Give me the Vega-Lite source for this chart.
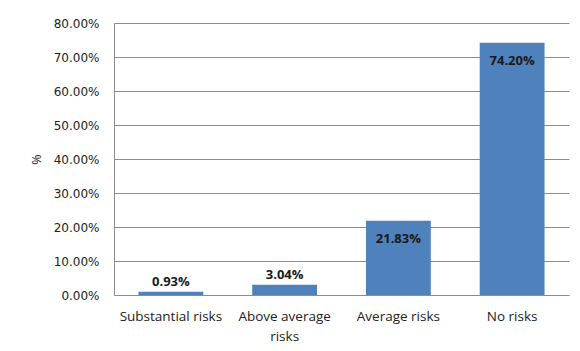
{
  "$schema": "https://vega.github.io/schema/vega-lite/v6.json",
  "width": 455,
  "height": 272,
  "autosize": "none",
  "padding": {"left": 114, "top": 23, "right": 11, "bottom": 56},
  "background": "white",
  "config": {
    "view": {"stroke": null},
    "font": "Open Sans"
  },
  "data": {
    "values": [
      {"category": "Substantial risks", "value": 0.0093},
      {"category": "Above average risks", "value": 0.0304},
      {"category": "Average risks", "value": 0.2183},
      {"category": "No risks", "value": 0.742}
    ]
  },
  "encoding": {
    "x": {
      "field": "category",
      "type": "nominal",
      "sort": null,
      "scale": {"paddingInner": 0.43, "paddingOuter": 0.215},
      "axis": {
        "title": null,
        "labelAngle": 0,
        "ticks": false,
        "domainColor": "#8c8c8c",
        "labelPadding": 14,
        "labelFontSize": 13.5,
        "labelColor": "#222",
        "labelFont": "Open Sans",
        "labelLineHeight": 20,
        "labelExpr": "datum.label == 'Above average risks' ? ['Above average', 'risks'] : datum.label"
      }
    },
    "y": {
      "field": "value",
      "type": "quantitative",
      "scale": {"domain": [0, 0.8]},
      "axis": {
        "title": "%",
        "titleAngle": -90,
        "titleFontWeight": "normal",
        "titleFontSize": 12.5,
        "titleColor": "#222",
        "titlePadding": 10,
        "format": ".2%",
        "values": [0, 0.1, 0.2, 0.3, 0.4, 0.5, 0.6, 0.7, 0.8],
        "labelOverlap": false,
        "ticks": false,
        "labelPadding": 15,
        "labelFont": "DejaVu Sans",
        "labelFontSize": 12,
        "labelColor": "#222",
        "domain": true,
        "domainColor": "#8c8c8c",
        "grid": true,
        "gridColor": "#8c8c8c",
        "gridOpacity": 1
      }
    }
  },
  "layer": [
    {"mark": {"type": "bar", "color": "#4F81BD"}},
    {
      "transform": [{"filter": "datum.value < 0.1"}],
      "mark": {"type": "text", "fontWeight": "bold", "fontSize": 13, "baseline": "bottom", "dy": -3, "color": "#1a1a1a"},
      "encoding": {"text": {"field": "value", "format": ".2%"}}
    },
    {
      "transform": [{"filter": "datum.value >= 0.1"}],
      "mark": {"type": "text", "fontWeight": "bold", "fontSize": 13, "baseline": "top", "dy": 12, "color": "#1a1a1a"},
      "encoding": {"text": {"field": "value", "format": ".2%"}}
    }
  ]
}
